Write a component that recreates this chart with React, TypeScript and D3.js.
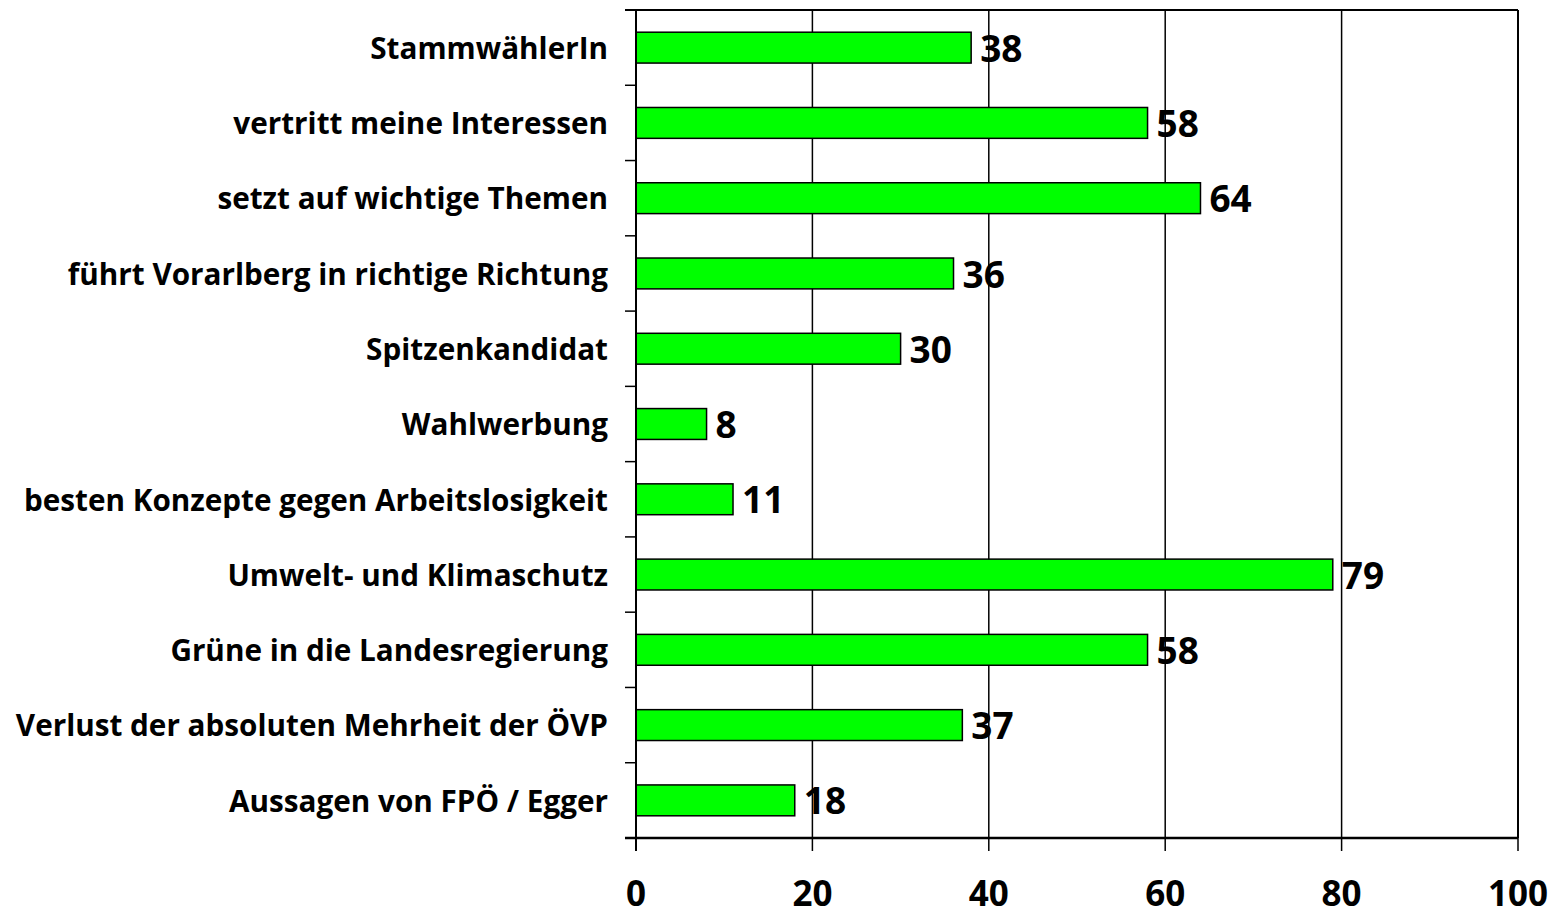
import React from "react";
import * as d3 from "d3";

const categories = [
  "StammwählerIn",
  "vertritt meine Interessen",
  "setzt auf wichtige Themen",
  "führt Vorarlberg in richtige Richtung",
  "Spitzenkandidat",
  "Wahlwerbung",
  "besten Konzepte gegen Arbeitslosigkeit",
  "Umwelt- und Klimaschutz",
  "Grüne in die Landesregierung",
  "Verlust der absoluten Mehrheit der ÖVP",
  "Aussagen von FPÖ / Egger",
];
const values = [38, 58, 64, 36, 30, 8, 11, 79, 58, 37, 18];
const xTicks = [0, 20, 40, 60, 80, 100];

const W = 1555;
const H = 917;
const left = 636;
const right = 1518;
const top = 10;
const bottom = 838;
const FONT = "'Open Sans', 'Noto Sans', sans-serif";

export default function App() {
  const x = d3.scaleLinear().domain([0, 100]).range([left, right]);
  const y = d3.scaleBand<string>().domain(categories).range([top, bottom]).paddingInner(0.59).paddingOuter(0.295);
  const band = (bottom - top) / categories.length;
  const boundaries = d3.range(categories.length + 1).map((i) => top + i * band);

  return (
    <svg width={W} height={H} style={{ position: "absolute", left: 0, top: 0, background: "#fff" }}>
      {xTicks.map((t) => (
        <line key={"g" + t} x1={x(t)} x2={x(t)} y1={top} y2={bottom + 13} stroke="#000" strokeWidth={1.5} />
      ))}
      <line x1={left - 11} x2={right} y1={top} y2={top} stroke="#000" strokeWidth={2} />
      <line x1={right} x2={right} y1={top} y2={bottom} stroke="#000" strokeWidth={2} />
      {boundaries.map((b, i) => (
        <line key={"t" + i} x1={left - 11} x2={left} y1={b} y2={b} stroke="#000" strokeWidth={1.5} />
      ))}
      {categories.map((c, i) => (
        <rect
          key={"b" + i}
          x={x(0)}
          y={y(c)!}
          width={x(values[i]) - x(0)}
          height={y.bandwidth()}
          fill="#00ff00"
          stroke="#000"
          strokeWidth={1.5}
        />
      ))}
      <line x1={left} x2={left} y1={top} y2={bottom + 13} stroke="#000" strokeWidth={2} />
      <line x1={left - 11} x2={right} y1={bottom} y2={bottom} stroke="#000" strokeWidth={2.5} />
      {categories.map((c, i) => (
        <text
          key={"v" + i}
          x={x(values[i]) + 9}
          y={y(c)! + y.bandwidth() / 2}
          dy="0.38em"
          fontFamily={FONT}
          fontWeight="bold"
          fontSize={37}
          fill="#000"
        >
          {values[i]}
        </text>
      ))}
      {categories.map((c, i) => (
        <text
          key={"c" + i}
          x={608}
          y={y(c)! + y.bandwidth() / 2}
          dy="0.38em"
          textAnchor="end"
          fontFamily={FONT}
          fontWeight="bold"
          fontSize={29.7}
          fill="#000"
        >
          {c}
        </text>
      ))}
      {xTicks.map((t) => (
        <text
          key={"x" + t}
          x={x(t)}
          y={906}
          textAnchor="middle"
          fontFamily={FONT}
          fontWeight="bold"
          fontSize={35}
          fill="#000"
        >
          {t}
        </text>
      ))}
    </svg>
  );
}
